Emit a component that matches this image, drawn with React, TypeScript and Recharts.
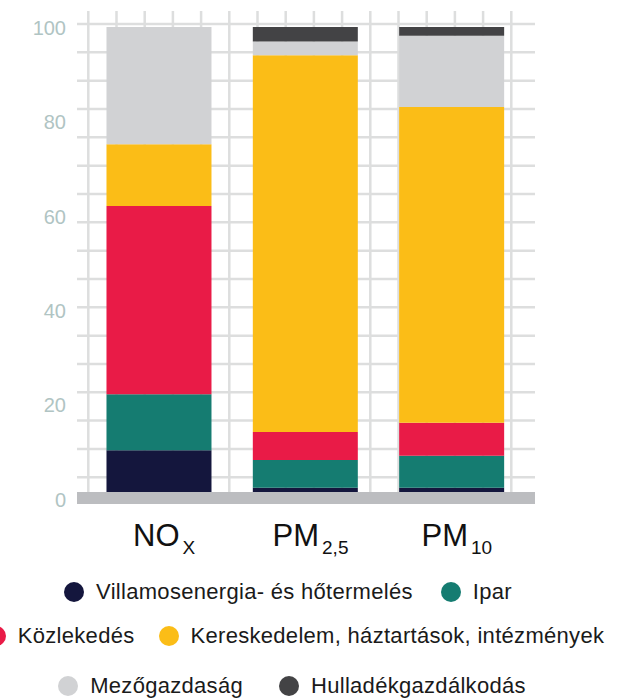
import { BarChart, Bar, XAxis, YAxis, CartesianGrid } from "recharts";

const categories = ["NOx", "PM2,5", "PM10"];
const labelMain = ["NO", "PM", "PM"];
const labelSub = ["X", "2,5", "10"];

const villamos = [9.0, 0.9, 0.9];
const ipar = [12.0, 6.0, 6.9];
const kozlekedes = [40.5, 6.0, 7.1];
const kereskedelem = [13.3, 81.0, 67.9];
const mezogazdasag = [25.2, 3.0, 15.3];
const hulladek = [0, 3.1, 1.9];

const yTicks = [0, 20, 40, 60, 80, 100];

const series = [
    { key: "villamos", name: "Villamosenergia- és hőtermelés", color: "#14163d", values: villamos },
    { key: "ipar", name: "Ipar", color: "#157c71", values: ipar },
    { key: "kozlekedes", name: "Közlekedés", color: "#e91b47", values: kozlekedes },
    { key: "kereskedelem", name: "Kereskedelem, háztartások, intézmények", color: "#fbbd17", values: kereskedelem },
    { key: "mezogazdasag", name: "Mezőgazdaság", color: "#d1d2d4", values: mezogazdasag },
    { key: "hulladek", name: "Hulladékgazdálkodás", color: "#434345", values: hulladek },
];

// legend rows: item indexes, top margin, left shift, gap between items
const legendRows = [
    { items: [0, 1], mt: 0, shift: 0, gap: 28 },
    { items: [2, 3], mt: 20, shift: 14, gap: 24 },
    { items: [4, 5], mt: 26, shift: 8, gap: 36 },
];

const data = categories.map((name, i) => {
    const row: Record<string, string | number> = { name };
    series.forEach((s) => {
        row[s.key] = s.values[i];
    });
    return row;
});

const FONT = "'Liberation Sans', Arial, sans-serif";

function XTick(props: any) {
    const { x, y, payload } = props;
    const i = categories.indexOf(payload.value);
    return (
        <text x={x + 5} y={y + 48} textAnchor="middle" fontSize={31} fill="#111" fontFamily={FONT}>
            <tspan>{labelMain[i]}</tspan>
            <tspan fontSize={19} dx={3} dy={8}>{labelSub[i]}</tspan>
        </text>
    );
}

function YTick(props: any) {
    const { x, y, payload } = props;
    const shift = 1 + (100 - payload.value) * 0.065;
    return (
        <text x={x} y={y + shift} textAnchor="end" dominantBaseline="central" fontSize={20} fill="#b0c4c3" fontFamily={FONT}>
            {payload.value}
        </text>
    );
}

function LegendBlock() {
    return (
        <div
            style={{
                position: "absolute",
                left: 0,
                top: 580,
                width: 576,
                fontFamily: FONT,
                fontSize: 22,
                letterSpacing: 0.3,
                color: "#1a1a1a",
            }}
        >
            {legendRows.map((row, r) => (
                <div
                    key={r}
                    style={{
                        display: "flex",
                        justifyContent: "center",
                        alignItems: "center",
                        height: 24,
                        marginTop: row.mt,
                        paddingLeft: row.shift,
                        whiteSpace: "nowrap",
                        gap: row.gap,
                    }}
                >
                    {row.items.map((idx) => (
                        <div key={idx} style={{ display: "flex", alignItems: "center", gap: 12, flexShrink: 0 }}>
                            <span
                                style={{
                                    width: 20,
                                    height: 20,
                                    borderRadius: "50%",
                                    background: series[idx].color,
                                    display: "inline-block",
                                    flexShrink: 0,
                                }}
                            />
                            <span>{series[idx].name}</span>
                        </div>
                    ))}
                </div>
            ))}
        </div>
    );
}

export default function App() {
    return (
        <div style={{ position: "absolute", left: 0, top: 0, width: 626, height: 699, overflow: "hidden", background: "#fff" }}>
            <BarChart
                width={626}
                height={699}
                data={data}
                margin={{ top: 11, right: 91, bottom: 131, left: 0 }}
                barCategoryGap="14%"
            >
                <CartesianGrid
                    stroke="#dddede"
                    strokeWidth={2.5}
                    horizontalCoordinatesGenerator={({ offset }: any) =>
                        Array.from({ length: 17 }, (_, i) => (offset?.top ?? 11) + 13 + i * 28.33)
                    }
                    verticalCoordinatesGenerator={({ offset }: any) =>
                        Array.from({ length: 16 }, (_, i) => (offset?.left ?? 77) + 11.3 + i * 28.2)
                    }
                />
                <XAxis
                    dataKey="name"
                    height={70}
                    tickLine={false}
                    tickSize={0}
                    tickMargin={0}
                    padding={{ left: 9, right: 10 }}
                    axisLine={{ stroke: "#bcbdc0", strokeWidth: 12 }}
                    tick={<XTick />}
                    interval={0}
                />
                <YAxis
                    width={77}
                    domain={[0, 100]}
                    ticks={yTicks}
                    tickLine={false}
                    axisLine={false}
                    tickSize={0}
                    tickMargin={11}
                    padding={{ top: 16, bottom: 6 }}
                    tick={<YTick />}
                />
                {series.map((s) => (
                    <Bar
                        key={s.key}
                        dataKey={s.key}
                        name={s.name}
                        stackId="a"
                        fill={s.color}
                        isAnimationActive={false}
                    />
                ))}
            </BarChart>
            <LegendBlock />
        </div>
    );
}
